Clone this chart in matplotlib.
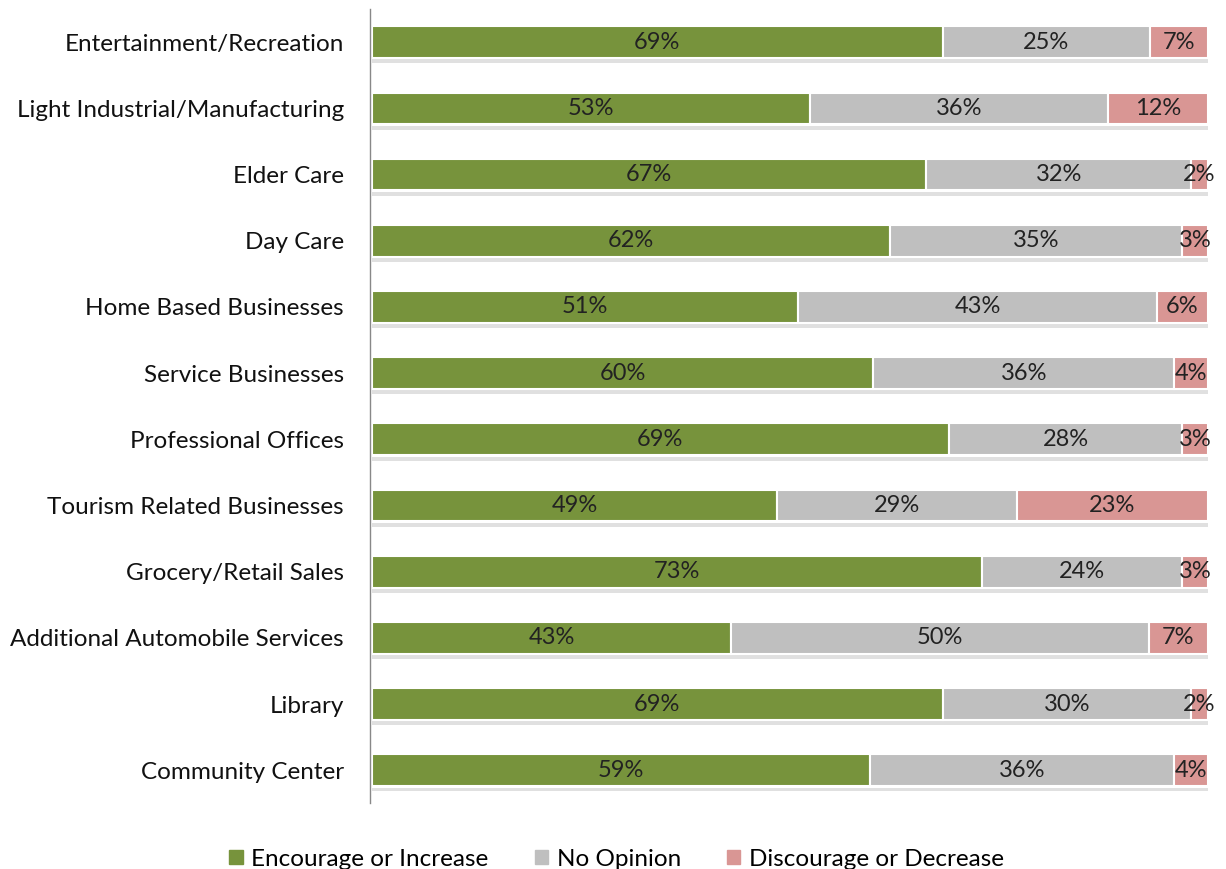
import numpy as np
import matplotlib.pyplot as plt
from matplotlib.patches import Patch

categories = [
    "Entertainment/Recreation",
    "Light Industrial/Manufacturing",
    "Elder Care",
    "Day Care",
    "Home Based Businesses",
    "Service Businesses",
    "Professional Offices",
    "Tourism Related Businesses",
    "Grocery/Retail Sales",
    "Additional Automobile Services",
    "Library",
    "Community Center",
]
encourage = [69, 53, 67, 62, 51, 60, 69, 49, 73, 43, 69, 59]
no_opinion = [25, 36, 32, 35, 43, 36, 28, 29, 24, 50, 30, 36]
discourage = [7, 12, 2, 3, 6, 4, 3, 23, 3, 7, 2, 4]

series_names = ["Encourage or Increase", "No Opinion", "Discourage or Decrease"]
colors = ["#77933C", "#BFBFBF", "#D99694"]

plt.rcParams['font.family'] = ['Lato', 'DejaVu Sans']

vals = np.array([encourage, no_opinion, discourage], dtype=float)
shares = vals / vals.sum(axis=0)

fig = plt.figure(figsize=(12.26, 8.69), dpi=100)
ax = fig.add_axes([0.302, 0.0755, 0.685, 0.914])

y = np.arange(len(categories))
h = 0.48
left = np.zeros(len(categories))

# soft shadow under each bar
ax.barh(y + h / 2 + 0.05, shares.sum(axis=0), height=0.06,
        color="#e0e0e0", zorder=1)

for i, name in enumerate(series_names):
    ax.barh(y, shares[i], left=left, height=h, color=colors[i],
            edgecolor="white", linewidth=1.5, label=name, zorder=2)
    for j in range(len(categories)):
        ax.text(left[j] + shares[i][j] / 2, y[j], f"{int(vals[i][j])}%",
                ha="center", va="center", fontsize=17, color="#222222", zorder=3)
    left += shares[i]

ax.set_xlim(-0.002, 1.003)
ax.set_ylim(len(categories) - 0.5, -0.5)
ax.set_yticks(y)
ax.set_yticklabels(categories, fontsize=17.5, color="#111111")
ax.set_xticks([])
ax.tick_params(axis="y", length=0, pad=19)
for s in ["top", "right", "bottom"]:
    ax.spines[s].set_visible(False)
ax.spines["left"].set_color("#888888")
ax.spines["left"].set_linewidth(1)

handles = [Patch(color=c, label=n) for c, n in zip(colors, series_names)]
fig.legend(handles=handles, loc="lower center", bbox_to_anchor=(0.503, -0.026),
           ncol=3, frameon=False, fontsize=17.5, handlelength=0.55,
           handleheight=0.55, handletextpad=0.35, columnspacing=1.9)

fig.savefig("out.png", dpi=100)
